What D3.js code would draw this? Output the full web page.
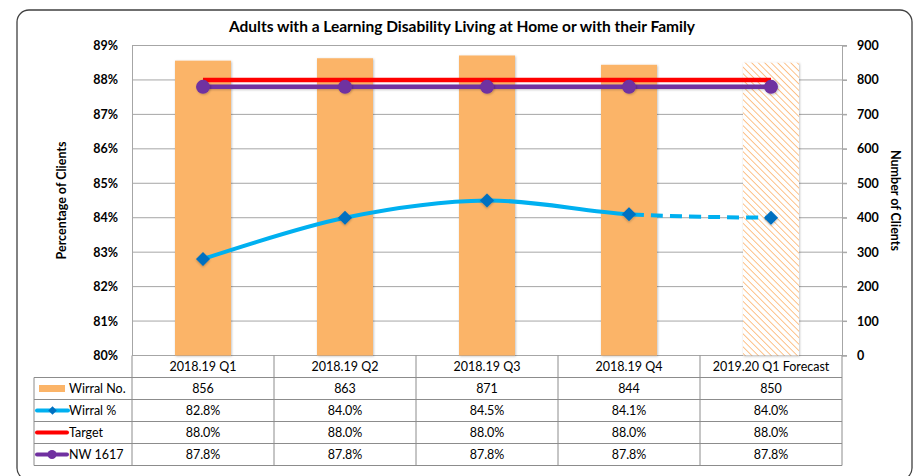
<!DOCTYPE html>
<html>
<head>
<meta charset="utf-8">
<script src="https://cdn.jsdelivr.net/npm/d3@7"></script>
<style>
  body { margin: 0; background: #fff; }
  svg { display: block; font-family: Lato, "Liberation Sans", sans-serif; }
</style>
</head>
<body>
<svg id="chart" width="916" height="476"></svg>
<script>
// data
var categories = ["2018.19 Q1", "2018.19 Q2", "2018.19 Q3", "2018.19 Q4", "2019.20 Q1 Forecast"];
var wirralNo = [856, 863, 871, 844, 850];
var wirralPct = [82.8, 84.0, 84.5, 84.1, 84.0];
var target = [88.0, 88.0, 88.0, 88.0, 88.0];
var nw1617 = [87.8, 87.8, 87.8, 87.8, 87.8];
var pctTicks = [80, 81, 82, 83, 84, 85, 86, 87, 88, 89];
var numTicks = [0, 100, 200, 300, 400, 500, 600, 700, 800, 900];
var seriesNames = ["Wirral No.", "Wirral %", "Target", "NW 1617"];

var svg = d3.select("#chart");
var margin = { top: 45.5, left: 132, right: 842, bottom: 355.5 };

var x = d3.scaleBand().domain(categories).range([margin.left, margin.right]);
var yPct = d3.scaleLinear().domain([80, 89]).range([margin.bottom, margin.top]);
var yNum = d3.scaleLinear().domain([0, 900]).range([margin.bottom, margin.top]);
var cx = function (i) { return x(categories[i]) + x.bandwidth() / 2; };

var barColor = "#fbb468";

// defs: hatch pattern, shadows, clip paths
var defs = svg.append("defs");
var pat = defs.append("pattern")
    .attr("id", "hatch")
    .attr("patternUnits", "userSpaceOnUse")
    .attr("width", 4.6).attr("height", 4.6)
    .attr("patternTransform", "rotate(45)");
pat.append("rect").attr("width", 4.6).attr("height", 4.6).attr("fill", "#fff");
pat.append("line").attr("x1", 0).attr("y1", 0).attr("x2", 4.6).attr("y2", 0)
    .attr("stroke", "#fcb36e").attr("stroke-width", 1.6);

// shadow for shapes (bbox based)
var sh = defs.append("filter").attr("id", "shadow")
    .attr("x", "-30%").attr("y", "-30%").attr("width", "160%").attr("height", "160%");
sh.append("feDropShadow").attr("dx", 0.8).attr("dy", 0.8).attr("stdDeviation", 1)
    .attr("flood-color", "#000").attr("flood-opacity", 0.25);

// shadow for flat lines (zero-height bbox)
var shl = defs.append("filter").attr("id", "lineShadow")
    .attr("filterUnits", "userSpaceOnUse")
    .attr("x", 0).attr("y", 0).attr("width", 916).attr("height", 476);
shl.append("feDropShadow").attr("dx", 0.8).attr("dy", 0.8).attr("stdDeviation", 1)
    .attr("flood-color", "#000").attr("flood-opacity", 0.25);

defs.append("clipPath").attr("id", "solidClip").append("rect")
    .attr("x", 0).attr("y", 0).attr("width", cx(3)).attr("height", 476);
defs.append("clipPath").attr("id", "dashClip").append("rect")
    .attr("x", cx(3)).attr("y", 0).attr("width", 916).attr("height", 476);

// outer frame
svg.append("rect")
    .attr("x", 17).attr("y", 10).attr("width", 895).attr("height", 470)
    .attr("rx", 12).attr("fill", "#fff").attr("stroke", "#404040").attr("stroke-width", 1.3);

// title
svg.append("text")
    .attr("x", 462).attr("y", 32)
    .attr("text-anchor", "middle")
    .attr("font-size", 15.5).attr("font-weight", "bold")
    .text("Adults with a Learning Disability Living at Home or with their Family");

// gridlines
svg.append("g").selectAll("line")
    .data(pctTicks)
    .enter().append("line")
    .attr("x1", margin.left).attr("x2", margin.right + 5)
    .attr("y1", function (d) { return yPct(d); })
    .attr("y2", function (d) { return yPct(d); })
    .attr("stroke", "#a6a6a6").attr("stroke-width", 1);

// left axis
var leftAxis = d3.axisLeft(yPct).tickValues(pctTicks).tickSize(0).tickPadding(14)
    .tickFormat(function (d) { return d + "%"; });
var gl = svg.append("g").attr("transform", "translate(" + margin.left + ",0)").call(leftAxis);
gl.select(".domain").attr("stroke", "#a6a6a6");
gl.selectAll("text").attr("font-size", 12.5).attr("font-weight", "bold")
    .attr("font-family", "Lato, sans-serif").attr("fill", "#000");

// right axis
var rightAxis = d3.axisRight(yNum).tickValues(numTicks).tickSize(5).tickPadding(10);
var gr = svg.append("g").attr("transform", "translate(" + margin.right + ",0)").call(rightAxis);
gr.select(".domain").attr("stroke", "#a6a6a6");
gr.selectAll(".tick line").attr("stroke", "#a6a6a6");
gr.selectAll("text").attr("font-size", 12.5).attr("font-weight", "bold")
    .attr("font-family", "Lato, sans-serif").attr("fill", "#000");

// axis titles
svg.append("text")
    .attr("transform", "translate(66," + ((margin.top + margin.bottom) / 2) + ") rotate(-90)")
    .attr("text-anchor", "middle").attr("font-size", 12.5).attr("font-weight", "bold")
    .text("Percentage of Clients");
svg.append("text")
    .attr("transform", "translate(891," + ((margin.top + margin.bottom) / 2) + ") rotate(90)")
    .attr("text-anchor", "middle").attr("font-size", 12.5).attr("font-weight", "bold")
    .text("Number of Clients");

// bars
var barW = 56;
svg.append("g").selectAll("rect")
    .data(wirralNo)
    .enter().append("rect")
    .attr("x", function (d, i) { return cx(i) - barW / 2; })
    .attr("y", function (d) { return yNum(d); })
    .attr("width", barW)
    .attr("height", function (d) { return yNum(0) - yNum(d); })
    .attr("fill", function (d, i) { return i == 4 ? "url(#hatch)" : barColor; })
    .attr("filter", "url(#shadow)");

// target line
var lineGen = d3.line()
    .x(function (d, i) { return cx(i); })
    .y(function (d) { return yPct(d); });
svg.append("path")
    .attr("d", lineGen(target))
    .attr("fill", "none").attr("stroke", "#ff0000").attr("stroke-width", 4.5);

// NW 1617 line
svg.append("path")
    .attr("d", lineGen(nw1617))
    .attr("fill", "none").attr("stroke", "#7030a0").attr("stroke-width", 4.5)
    .attr("filter", "url(#lineShadow)");
svg.append("g").selectAll("circle")
    .data(nw1617)
    .enter().append("circle")
    .attr("cx", function (d, i) { return cx(i); })
    .attr("cy", function (d) { return yPct(d); })
    .attr("r", 7)
    .attr("fill", "#7030a0")
    .attr("filter", "url(#shadow)");

// Wirral % line (smooth, last segment dashed)
var curveGen = d3.line()
    .x(function (d, i) { return cx(i); })
    .y(function (d) { return yPct(d); })
    .curve(d3.curveCatmullRom.alpha(0.5));
svg.append("path")
    .attr("d", curveGen(wirralPct))
    .attr("clip-path", "url(#solidClip)")
    .attr("fill", "none").attr("stroke", "#00b0f0").attr("stroke-width", 4);
svg.append("path")
    .attr("d", curveGen(wirralPct))
    .attr("clip-path", "url(#dashClip)")
    .attr("fill", "none").attr("stroke", "#00b0f0").attr("stroke-width", 4)
    .attr("stroke-dasharray", "12,7");
svg.append("g").selectAll("rect")
    .data(wirralPct)
    .enter().append("rect")
    .attr("x", -5).attr("y", -5).attr("width", 10).attr("height", 10)
    .attr("transform", function (d, i) {
        return "translate(" + cx(i) + "," + yPct(d) + ") rotate(45)";
    })
    .attr("fill", "#0070c0")
    .attr("filter", "url(#shadow)");

// data table
var rowH = 22;
var tableTop = margin.bottom;
var tableLeft = 34;
var gridColor = "#8c8c8c";
var tbl = svg.append("g");

// header row
tbl.append("line").attr("x1", margin.left).attr("x2", margin.right)
    .attr("y1", tableTop + rowH).attr("y2", tableTop + rowH)
    .attr("stroke", gridColor);
tbl.selectAll(".hdr")
    .data(categories)
    .enter().append("text")
    .attr("x", function (d) { return x(d) + x.bandwidth() / 2; })
    .attr("y", tableTop + rowH / 2 + 4.5)
    .attr("text-anchor", "middle").attr("font-size", 12.5)
    .text(function (d) { return d; });

var rows = [
    wirralNo.map(function (v) { return String(v); }),
    wirralPct.map(function (v) { return v.toFixed(1) + "%"; }),
    target.map(function (v) { return v.toFixed(1) + "%"; }),
    nw1617.map(function (v) { return v.toFixed(1) + "%"; })
];
rows.forEach(function (row, r) {
    var y0 = tableTop + rowH * (r + 1);
    tbl.append("line").attr("x1", tableLeft).attr("x2", margin.right)
        .attr("y1", y0 + rowH).attr("y2", y0 + rowH).attr("stroke", gridColor);
    tbl.selectAll(".r" + r)
        .data(row)
        .enter().append("text")
        .attr("x", function (d, i) { return cx(i); })
        .attr("y", y0 + rowH / 2 + 4.5)
        .attr("text-anchor", "middle").attr("font-size", 12.5)
        .text(function (d) { return d; });
    tbl.append("text")
        .attr("x", 69).attr("y", y0 + rowH / 2 + 4.5)
        .attr("font-size", 12.5)
        .text(seriesNames[r]);
});
tbl.append("line").attr("x1", tableLeft).attr("x2", margin.left)
    .attr("y1", tableTop + rowH).attr("y2", tableTop + rowH).attr("stroke", gridColor);

// vertical table lines
var vx = [tableLeft].concat(categories.map(function (d) { return x(d); })).concat([margin.right]);
vx.forEach(function (v, k) {
    tbl.append("line")
        .attr("x1", v).attr("x2", v)
        .attr("y1", k == 0 ? tableTop + rowH : tableTop)
        .attr("y2", tableTop + rowH * 5)
        .attr("stroke", gridColor);
});

// legend keys
var ky = function (r) { return tableTop + rowH * (r + 1) + rowH / 2; };
tbl.append("rect").attr("x", 39).attr("y", ky(0) - 3.5).attr("width", 26).attr("height", 7)
    .attr("fill", barColor);
tbl.append("line").attr("x1", 37).attr("x2", 68).attr("y1", ky(1)).attr("y2", ky(1))
    .attr("stroke", "#00b0f0").attr("stroke-width", 4).attr("stroke-linecap", "round");
tbl.append("rect").attr("x", -3).attr("y", -3).attr("width", 6).attr("height", 6)
    .attr("transform", "translate(52.5," + ky(1) + ") rotate(45)").attr("fill", "#0070c0");
tbl.append("line").attr("x1", 37).attr("x2", 67).attr("y1", ky(2)).attr("y2", ky(2))
    .attr("stroke", "#ff0000").attr("stroke-width", 4).attr("stroke-linecap", "round");
tbl.append("line").attr("x1", 37).attr("x2", 67).attr("y1", ky(3)).attr("y2", ky(3))
    .attr("stroke", "#7030a0").attr("stroke-width", 4).attr("stroke-linecap", "round");
tbl.append("circle").attr("cx", 52).attr("cy", ky(3)).attr("r", 4.5).attr("fill", "#7030a0");
</script>
</body>
</html>
